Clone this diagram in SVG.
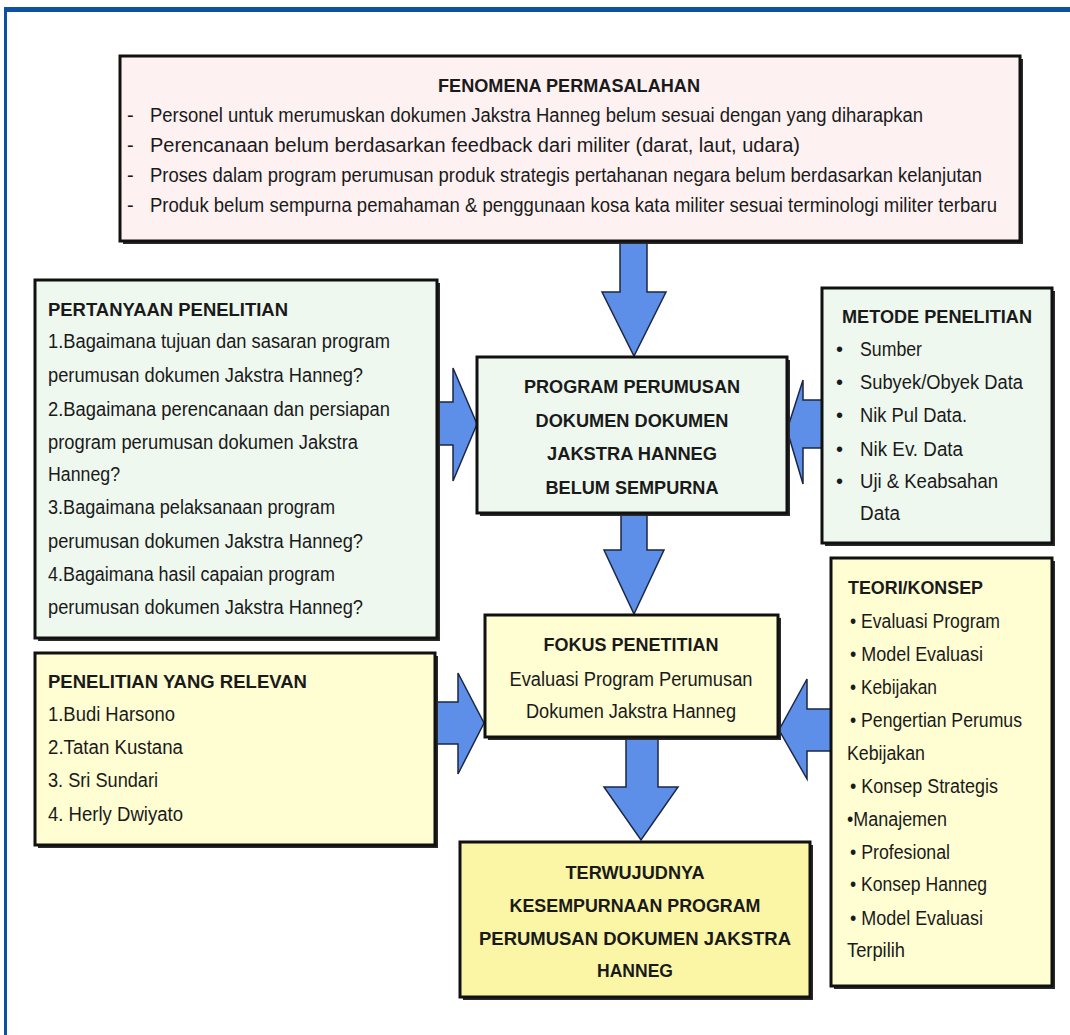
<svg xmlns="http://www.w3.org/2000/svg" width="1070" height="1035" viewBox="0 0 1070 1035">
<style>
  text { font-family: "Liberation Sans", Arial, sans-serif; font-size: 20px; fill: #1a1a1a; }
  .b { font-weight: bold; font-size: 19px; }
  .c { text-anchor: middle; }
  .box { stroke: #111; stroke-width: 3; }
  .sh { fill: #2a2a2a; }
  .pink { fill: #fdf1f1; }
  .mint { fill: #eef8ef; }
  .yel { fill: #fffdd2; }
  .yel2 { fill: #fbf6a6; }
  .arrow { fill: #5d8fe8; stroke: #1c2745; stroke-width: 1.5; stroke-linejoin: miter; }
  .frame { fill: #0d52a0; }
</style>
<rect width="1070" height="1035" fill="#ffffff"/>
<g id="frame">
  <rect class="frame" x="4" y="7" width="1066" height="5"/>
  <rect class="frame" x="4" y="7" width="3" height="1028"/>
</g>
<g id="connectors">
  <polygon class="arrow" points="620,240 647,240 647,292 666,292 634,356 602,292 620,292"/>
  <polygon class="arrow" points="621,511 647,511 647,550 664,550 634,614 604,550 621,550"/>
  <polygon class="arrow" points="435,402 453,402 453,368 477,424 453,481 453,445 435,445"/>
  <polygon class="arrow" points="824,400 803,400 803,380 787,430 803,484 803,448 824,448"/>
  <polygon class="arrow" points="433,702 458,702 458,673 484,723 458,774 458,744 433,744"/>
  <polygon class="arrow" points="833,709 807,709 807,679 779,730 807,779 807,751 833,751"/>
  <polygon class="arrow" points="626,735 658,735 658,787 678,787 641,840 604,787 626,787"/>
</g>
<g id="fenomena">
  <rect class="sh" x="123" y="59" width="900" height="185"/>
  <rect class="box pink" x="120" y="56" width="900" height="185" stroke-width="4"/>
  <text class="b" x="438" y="92" textLength="262" lengthAdjust="spacingAndGlyphs">FENOMENA PERMASALAHAN</text>
  <text x="127" y="122">-</text>
  <text x="150" y="122" textLength="773" lengthAdjust="spacingAndGlyphs">Personel untuk merumuskan dokumen Jakstra Hanneg belum sesuai dengan yang diharapkan</text>
  <text x="127" y="152">-</text>
  <text x="150" y="152" textLength="650" lengthAdjust="spacingAndGlyphs">Perencanaan belum berdasarkan feedback dari militer (darat, laut, udara)</text>
  <text x="127" y="182">-</text>
  <text x="150" y="182" textLength="832" lengthAdjust="spacingAndGlyphs">Proses dalam program perumusan produk strategis pertahanan negara belum berdasarkan kelanjutan</text>
  <text x="127" y="212">-</text>
  <text x="150" y="212" textLength="847" lengthAdjust="spacingAndGlyphs">Produk belum sempurna pemahaman &amp; penggunaan kosa kata militer sesuai terminologi militer terbaru</text>
</g>
<g id="pertanyaan">
  <rect class="sh" x="38" y="283" width="402" height="358"/>
  <rect class="box mint" x="35" y="280" width="402" height="358"/>
  <text class="b" x="48" y="316" textLength="240" lengthAdjust="spacingAndGlyphs">PERTANYAAN PENELITIAN</text>
  <text x="48" y="348" textLength="342" lengthAdjust="spacingAndGlyphs">1.Bagaimana tujuan dan sasaran program</text>
  <text x="48" y="382" textLength="315" lengthAdjust="spacingAndGlyphs">perumusan dokumen Jakstra Hanneg?</text>
  <text x="48" y="416" textLength="342" lengthAdjust="spacingAndGlyphs">2.Bagaimana perencanaan dan persiapan</text>
  <text x="48" y="449" textLength="310" lengthAdjust="spacingAndGlyphs">program perumusan dokumen Jakstra</text>
  <text x="48" y="481" textLength="72" lengthAdjust="spacingAndGlyphs">Hanneg?</text>
  <text x="48" y="514" textLength="287" lengthAdjust="spacingAndGlyphs">3.Bagaimana pelaksanaan program</text>
  <text x="48" y="548" textLength="315" lengthAdjust="spacingAndGlyphs">perumusan dokumen Jakstra Hanneg?</text>
  <text x="48" y="581" textLength="287" lengthAdjust="spacingAndGlyphs">4.Bagaimana hasil capaian program</text>
  <text x="48" y="614" textLength="315" lengthAdjust="spacingAndGlyphs">perumusan dokumen Jakstra Hanneg?</text>
</g>
<g id="program">
  <rect class="sh" x="480" y="360" width="310" height="156"/>
  <rect class="box mint" x="477" y="357" width="310" height="156"/>
  <text class="b c" x="632" y="393" textLength="216" lengthAdjust="spacingAndGlyphs">PROGRAM PERUMUSAN</text>
  <text class="b c" x="632" y="427" textLength="193" lengthAdjust="spacingAndGlyphs">DOKUMEN DOKUMEN</text>
  <text class="b c" x="632" y="460" textLength="170" lengthAdjust="spacingAndGlyphs">JAKSTRA HANNEG</text>
  <text class="b c" x="632" y="494" textLength="173" lengthAdjust="spacingAndGlyphs">BELUM SEMPURNA</text>
</g>
<g id="metode">
  <rect class="sh" x="825" y="291" width="230" height="255"/>
  <rect class="box mint" x="822" y="288" width="230" height="255"/>
  <text class="b" x="842" y="323" textLength="190" lengthAdjust="spacingAndGlyphs">METODE PENELITIAN</text>
  <text x="836" y="356" font-size="14">•</text>
  <text x="860" y="356" textLength="62" lengthAdjust="spacingAndGlyphs">Sumber</text>
  <text x="836" y="389" font-size="14">•</text>
  <text x="860" y="389" textLength="163" lengthAdjust="spacingAndGlyphs">Subyek/Obyek Data</text>
  <text x="836" y="422" font-size="14">•</text>
  <text x="860" y="422" textLength="107" lengthAdjust="spacingAndGlyphs">Nik Pul Data.</text>
  <text x="836" y="456" font-size="14">•</text>
  <text x="860" y="456" textLength="103" lengthAdjust="spacingAndGlyphs">Nik Ev. Data</text>
  <text x="836" y="488" font-size="14">•</text>
  <text x="860" y="488" textLength="138" lengthAdjust="spacingAndGlyphs">Uji &amp; Keabsahan</text>
  <text x="860" y="520" textLength="40" lengthAdjust="spacingAndGlyphs">Data</text>
</g>
<g id="relevan">
  <rect class="sh" x="38" y="656" width="400" height="192"/>
  <rect class="box yel" x="35" y="653" width="400" height="192"/>
  <text class="b" x="48" y="688" textLength="259" lengthAdjust="spacingAndGlyphs">PENELITIAN YANG RELEVAN</text>
  <text x="48" y="721" textLength="127" lengthAdjust="spacingAndGlyphs">1.Budi Harsono</text>
  <text x="48" y="754" textLength="135" lengthAdjust="spacingAndGlyphs">2.Tatan Kustana</text>
  <text x="48" y="787" textLength="110" lengthAdjust="spacingAndGlyphs">3. Sri Sundari</text>
  <text x="48" y="821" textLength="135" lengthAdjust="spacingAndGlyphs">4. Herly Dwiyato</text>
</g>
<g id="fokus">
  <rect class="sh" x="488" y="618" width="293" height="122"/>
  <rect class="box yel" x="485" y="615" width="293" height="122"/>
  <text class="b c" x="631" y="651" textLength="175" lengthAdjust="spacingAndGlyphs">FOKUS PENETITIAN</text>
  <text class="c" x="631" y="686" textLength="243" lengthAdjust="spacingAndGlyphs">Evaluasi Program Perumusan</text>
  <text class="c" x="631" y="718" textLength="210" lengthAdjust="spacingAndGlyphs">Dokumen Jakstra Hanneg</text>
</g>
<g id="teori">
  <rect class="sh" x="834" y="561" width="221" height="428"/>
  <rect class="box yel" x="831" y="558" width="221" height="428"/>
  <text class="b" x="848" y="594" textLength="135" lengthAdjust="spacingAndGlyphs">TEORI/KONSEP</text>
  <text x="850" y="628" textLength="150" lengthAdjust="spacingAndGlyphs">• Evaluasi Program</text>
  <text x="850" y="661" textLength="133" lengthAdjust="spacingAndGlyphs">• Model Evaluasi</text>
  <text x="850" y="694" textLength="87" lengthAdjust="spacingAndGlyphs">• Kebijakan</text>
  <text x="850" y="727" textLength="172" lengthAdjust="spacingAndGlyphs">• Pengertian Perumus</text>
  <text x="847" y="760" textLength="78" lengthAdjust="spacingAndGlyphs">Kebijakan</text>
  <text x="850" y="793" textLength="148" lengthAdjust="spacingAndGlyphs">• Konsep Strategis</text>
  <text x="847" y="826" textLength="100" lengthAdjust="spacingAndGlyphs">•Manajemen</text>
  <text x="850" y="859" textLength="100" lengthAdjust="spacingAndGlyphs">• Profesional</text>
  <text x="850" y="891" textLength="137" lengthAdjust="spacingAndGlyphs">• Konsep Hanneg</text>
  <text x="850" y="925" textLength="133" lengthAdjust="spacingAndGlyphs">• Model Evaluasi</text>
  <text x="847" y="957" textLength="58" lengthAdjust="spacingAndGlyphs">Terpilih</text>
</g>
<g id="terwujudnya">
  <rect class="sh" x="463" y="845" width="350" height="155"/>
  <rect class="box yel2" x="460" y="842" width="350" height="155"/>
  <text class="b c" x="635" y="879" textLength="139" lengthAdjust="spacingAndGlyphs">TERWUJUDNYA</text>
  <text class="b c" x="635" y="912" textLength="251" lengthAdjust="spacingAndGlyphs">KESEMPURNAAN PROGRAM</text>
  <text class="b c" x="635" y="945" textLength="312" lengthAdjust="spacingAndGlyphs">PERUMUSAN DOKUMEN JAKSTRA</text>
  <text class="b c" x="635" y="977" textLength="76" lengthAdjust="spacingAndGlyphs">HANNEG</text>
</g>
</svg>
